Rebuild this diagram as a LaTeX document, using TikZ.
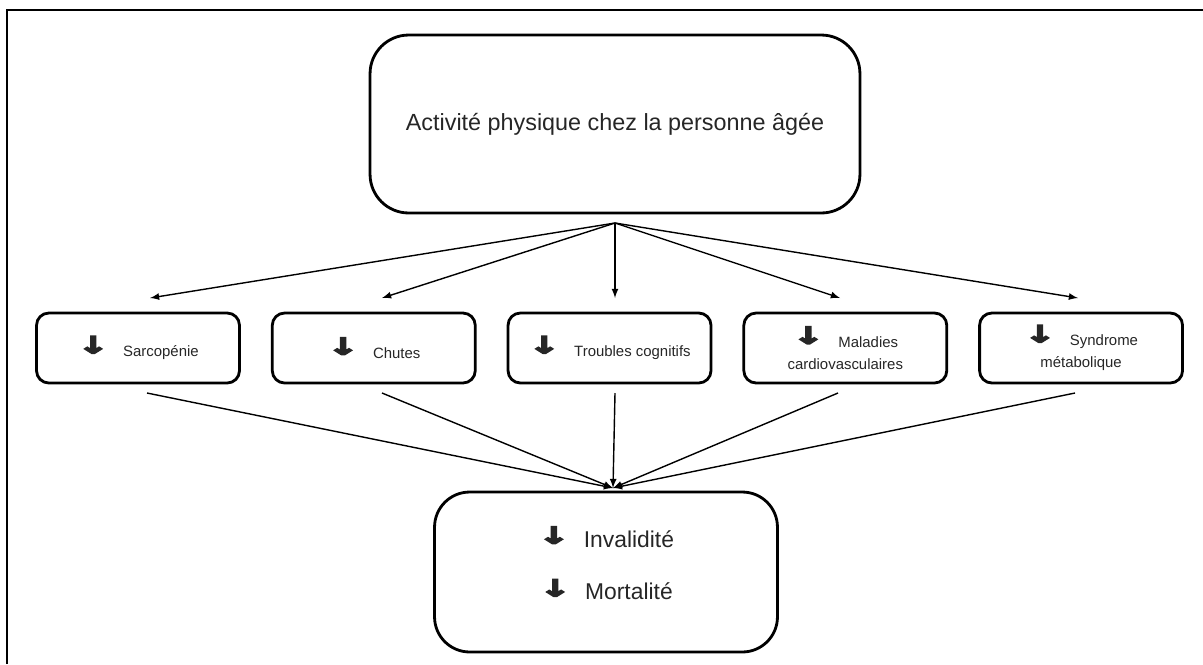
\documentclass[tikz,border=0pt]{standalone}
\usepackage{fontspec}
\setmainfont{Liberation Sans}
\newfontfamily\symfont[FakeBold=5]{DejaVu Sans}
\usepackage{xcolor}
\usetikzlibrary{positioning}

\newcommand{\dn}{{\symfont\bfseries\fontsize{13.5}{13.5}\selectfont\raisebox{2pt}{\scalebox{1.6}[1]{↓}}}\hspace{8pt}}

\begin{document}
\begin{tikzpicture}[x=0.02cm, y=-0.02cm, node distance=0.6cm,
  box/.style={draw, line width=1.6pt, rounded corners=7pt, minimum width=4.06cm, minimum height=1.4cm, align=center, text=black!85, font=\fontsize{8.5}{12.5}\selectfont},
  link/.style={->, >=latex, line width=0.8pt}]
  \useasboundingbox (0,0) rectangle (1203,664);
  \draw[line width=1.5pt] (7,664) -- (7,10) -- (1203,10);

  \node[box, minimum width=9.8cm, minimum height=3.56cm, rounded corners=22pt, font=\fontsize{13.3}{16}\selectfont] (act) at (615,124) {Activité physique chez la personne âgée};

  \node[box] (sarc) at (138,348) {\dn Sarcopénie};
  \node[box, right=of sarc] (chut) {\dn Chutes};
  \node[box, right=of chut] (cogn) {\dn Troubles cognitifs};
  \node[box, right=of cogn] (card) {\dn Maladies\\cardiovasculaires};
  \node[box, right=of card] (synd) {\dn Syndrome\\métabolique};

  \node[box, minimum width=6.86cm, minimum height=3.2cm, rounded corners=20pt, font=\fontsize{13}{16}\selectfont] (inv) at (606,572) {\dn Invalidité\\[14pt]\dn Mortalité\\[-6pt]\mbox{}};

  \coordinate (hub) at (615,223);
  \coordinate (t1) at (150,298);
  \coordinate (t2) at (382,298);
  \coordinate (t3) at (615,298);
  \coordinate (t4) at (840,298);
  \coordinate (t5) at (1078,298);
  \draw[link] (hub) -- (t1);
  \draw[link] (hub) -- (t2);
  \draw[link] (hub) -- (t3);
  \draw[link] (hub) -- (t4);
  \draw[link] (hub) -- (t5);

  \coordinate (b1) at (147,393);
  \coordinate (b2) at (382,393);
  \coordinate (b3) at (615,393);
  \coordinate (b4) at (838,393);
  \coordinate (b5) at (1075,393);
  \coordinate (join) at (613,488);
  \draw[link] (b1) -- (join);
  \draw[link] (b2) -- (join);
  \draw[link] (b3) -- (join);
  \draw[link] (b4) -- (join);
  \draw[link] (b5) -- (join);
\end{tikzpicture}
\end{document}
